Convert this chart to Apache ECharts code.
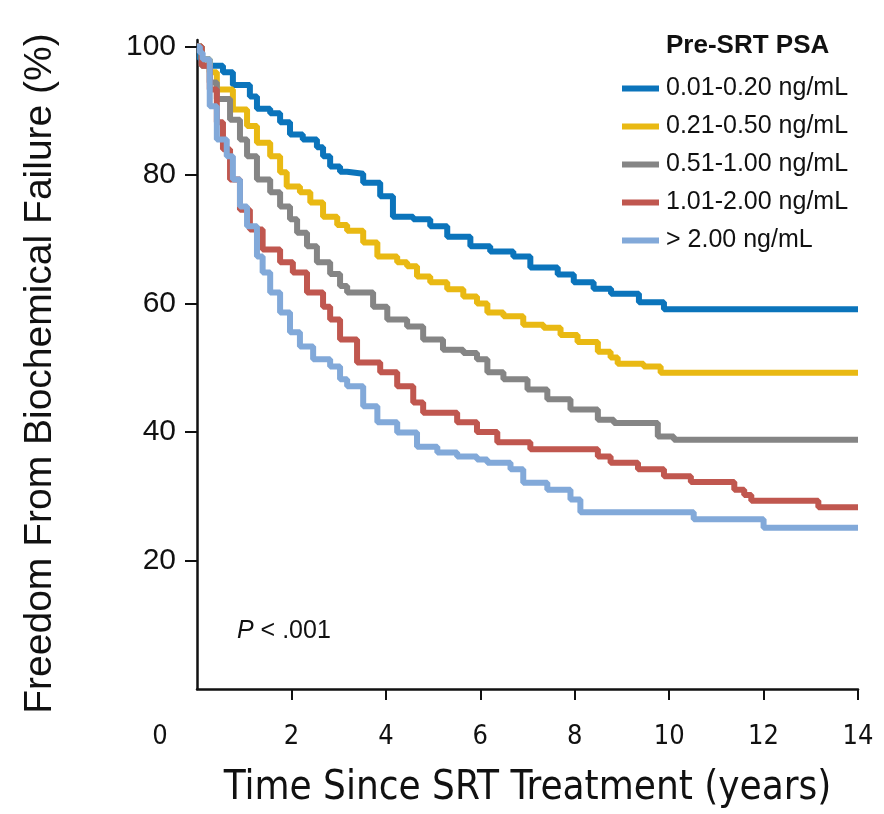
<!DOCTYPE html>
<html>
<head>
<meta charset="utf-8">
<script src="https://cdn.jsdelivr.net/npm/echarts@6/dist/echarts.min.js"></script>
<style>
  html, body { margin: 0; padding: 0; background: #fff; }
  #chart { width: 884px; height: 814px; }
</style>
</head>
<body>
<div id="chart"></div>
<script>
// legend labels
const groups = ['0.01-0.20 ng/mL', '0.21-0.50 ng/mL', '0.51-1.00 ng/mL', '1.01-2.00 ng/mL', '> 2.00 ng/mL'];
const colors = ['#0B74BB', '#E9B913', '#858585', '#C0574F', '#82A9D9'];

// [years, % free of failure]
const psa1 = [[0,100],[0.06,98],[0.27,97],[0.55,96],[0.76,94],[1.12,92.2],[1.27,90.3],[1.55,89.6],[1.76,88.2],[1.97,86.3],[2.24,85.5],[2.54,84.3],[2.67,82.9],[2.82,81.3],[3.03,80.5],[3.18,80.2],[3.52,78.8],[3.88,76.7],[4.15,73.5],[4.58,73.1],[4.94,72],[5.3,70.4],[5.79,68.9],[6.21,68.1],[6.7,67.3],[7.06,65.6],[7.64,64.5],[7.98,63.3],[8.4,62.3],[8.77,61.5],[9.36,60.2],[9.89,59.1],[14,59.1]];
const psa2 = [[0,100],[0.1,98],[0.27,96],[0.42,93.3],[0.76,90.2],[1.06,87.6],[1.27,85],[1.55,82.9],[1.76,80.4],[1.9,78.2],[2.18,77.3],[2.4,75.7],[2.67,73.5],[2.97,72.2],[3.18,71.3],[3.52,69.5],[3.82,67.3],[4.24,66.4],[4.45,65.8],[4.66,64.2],[4.94,63.3],[5.3,62.2],[5.64,61.1],[5.93,60],[6.15,58.6],[6.49,58],[6.91,56.7],[7.34,56.2],[7.7,55.1],[8.06,54],[8.49,52.5],[8.76,51.6],[8.91,50.6],[9.46,50.2],[9.82,49.2],[14,49.2]];
const psa3 = [[0,100],[0.1,97],[0.27,94.4],[0.42,91.8],[0.7,88.6],[0.91,85.5],[1.06,82.9],[1.27,79.3],[1.55,77.3],[1.76,75.1],[1.97,73.1],[2.12,71],[2.33,68.9],[2.54,66.4],[2.82,64.6],[3.03,62.7],[3.18,61.7],[3.73,59.5],[4.03,57.5],[4.45,56.4],[4.79,54.4],[5.21,52.8],[5.64,52.3],[5.93,51.3],[6.15,49.3],[6.49,48.2],[7,46.6],[7.42,45.1],[7.91,43.5],[8.49,41.9],[8.83,41.4],[9.76,39.3],[10.1,38.8],[14,38.8]];
const psa4 = [[0,100],[0.1,97],[0.27,93.3],[0.42,88.2],[0.55,84],[0.7,79.3],[0.91,74.6],[1.12,71.5],[1.39,68.4],[1.76,66.4],[2.03,64.8],[2.33,61.7],[2.67,59.5],[2.82,57.5],[3.03,54.4],[3.39,50.8],[3.88,49.3],[4.24,47.1],[4.58,44.6],[4.79,43],[5.51,41.5],[5.93,40],[6.36,38.4],[7.06,37.3],[8.49,36.2],[8.76,35.2],[9.34,34.2],[9.89,33.1],[10.46,32.2],[11.38,31],[11.59,30.2],[11.74,29.3],[13.16,28.3],[14,28.3]];
const psa5 = [[0,100],[0.06,99],[0.12,98],[0.27,90.7],[0.42,85.5],[0.63,82.9],[0.76,79.3],[0.91,75.1],[1.06,72],[1.27,67.3],[1.39,64.8],[1.55,61.7],[1.76,58.6],[1.97,55.5],[2.18,53.3],[2.46,51.3],[2.82,50.2],[3.03,48.2],[3.18,47.1],[3.52,44],[3.82,41.5],[4.24,39.9],[4.66,37.7],[5.09,36.8],[5.51,36.2],[5.93,35.7],[6.15,35.2],[6.64,34.2],[6.91,32.1],[7.42,31],[7.91,29.5],[8.12,27.5],[10.52,26.4],[12,25.1],[14,25.1]];

const xTicks = [2, 4, 6, 8, 10, 12, 14];
const xLabels = [0, 2, 4, 6, 8, 10, 12, 14];
const yTicks = [20, 40, 60, 80, 100];

const curves = [psa1, psa2, psa3, psa4, psa5];

const narrow = "'Liberation Sans Narrow', 'DejaVu Sans Condensed', sans-serif";

let myChart = echarts.init(document.getElementById('chart'));
let option = {
  animation: false,
  title: {
    text: 'Pre-SRT PSA',
    left: 661,
    top: 28,
    textStyle: { fontFamily: 'Liberation Sans', fontWeight: 'bold', fontSize: 26, color: '#111' }
  },
  legend: {
    data: groups,
    orient: 'vertical',
    left: 617,
    top: 71,
    itemWidth: 37,
    itemHeight: 6,
    itemGap: 13,
    icon: 'rect',
    textStyle: { fontFamily: 'Liberation Sans', fontSize: 25, color: '#111', padding: [0, 0, 0, 2] }
  },
  graphic: [{
    type: 'text',
    left: 237,
    top: 619,
    style: {
      text: '{i|P} < .001',
      rich: { i: { fontStyle: 'italic', fontFamily: 'Liberation Sans', fontSize: 25, fill: '#111' } },
      font: '25px "Liberation Sans"',
      fill: '#111'
    }
  }],
  grid: { left: 197, right: 26, top: 40, bottom: 125 },
  xAxis: {
    type: 'value',
    min: 0,
    max: 14,
    interval: 2,
    name: 'Time Since SRT Treatment (years)',
    nameLocation: 'middle',
    nameGap: 80,
    nameTextStyle: { fontFamily: narrow, fontSize: 40, color: '#111' },
    splitLine: { show: false },
    axisLine: { lineStyle: { color: '#111', width: 2.5 } },
    axisTick: { customValues: xTicks, length: 11, lineStyle: { color: '#111', width: 2 } },
    axisLabel: {
      customValues: xLabels,
      margin: 34,
      fontFamily: narrow,
      fontSize: 27,
      color: '#111',
      formatter: function (v) { return v === 0 ? '{z|0}' : String(v); },
      rich: { z: { fontFamily: narrow, fontSize: 27, color: '#111', padding: [0, 74, 0, 0] } }
    }
  },
  yAxis: {
    type: 'value',
    min: 0,
    max: 101,
    name: 'Freedom From Biochemical Failure (%)',
    nameLocation: 'middle',
    nameGap: 137,
    nameTextStyle: { fontFamily: 'Liberation Sans', fontSize: 39, color: '#111', padding: [0, 18, 0, 0] },
    splitLine: { show: false },
    axisLine: { show: true, lineStyle: { color: '#111', width: 2.5 } },
    axisTick: { show: true, customValues: yTicks, length: 12, lineStyle: { color: '#111', width: 2 } },
    axisLabel: {
      customValues: yTicks,
      margin: 21,
      fontFamily: 'Liberation Sans',
      fontSize: 30,
      color: '#111'
    }
  },
  series: curves.map(function (d, i) {
    return {
      name: groups[i],
      type: 'line',
      step: 'end',
      data: d,
      showSymbol: false,
      color: colors[i],
      lineStyle: { width: 6, color: colors[i] }
    };
  })
};
myChart.setOption(option);
</script>
</body>
</html>
